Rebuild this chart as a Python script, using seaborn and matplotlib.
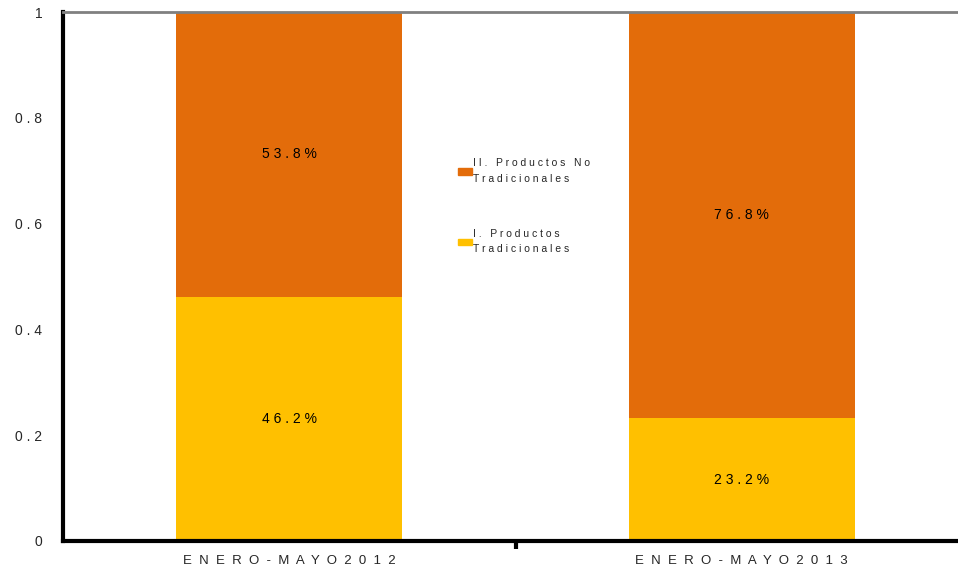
import matplotlib
matplotlib.use("Agg")
import matplotlib.pyplot as plt
import seaborn as sns
import pandas as pd
from matplotlib.patches import Patch

# Data
periodos = ["ENERO-MAYO2012", "ENERO-MAYO2013"]
tradicionales = [0.462, 0.232]
no_tradicionales = [0.538, 0.768]
serie_names = ["II. Productos No\nTradicionales", "I. Productos\nTradicionales"]
color_no_trad = "#E36C0A"
color_trad = "#FFC000"


def spaced(s, gap=" "):
    # the original renders the text with wide letter spacing
    return "\n".join(gap.join(line) for line in s.split("\n"))


df = pd.DataFrame({
    "Periodo": periodos,
    "Trad": tradicionales,
    "NoTrad": no_tradicionales,
})
df["Total"] = df["Trad"] + df["NoTrad"]

sns.set_style("white")
plt.rcParams["font.family"] = ["Liberation Sans", "DejaVu Sans"]

fig = plt.figure(figsize=(9.58, 5.76), dpi=100)
ax = fig.add_axes([0.0658, 0.0608, 0.9447, 0.918])

# stacked bars: total first (orange), then the bottom part (yellow)
sns.barplot(data=df, x="Periodo", y="Total", color=color_no_trad, width=0.5,
            saturation=1, linewidth=0, ax=ax)
sns.barplot(data=df, x="Periodo", y="Trad", color=color_trad, width=0.5,
            saturation=1, linewidth=0, ax=ax)

# percentage labels in the middle of each segment
for i, row in df.iterrows():
    ax.text(i, row["Trad"] / 2, spaced(f"{row['Trad'] * 100:.1f}%"),
            ha="center", va="center", fontsize=10, color="black")
    ax.text(i, row["Trad"] + row["NoTrad"] / 2, spaced(f"{row['NoTrad'] * 100:.1f}%"),
            ha="center", va="center", fontsize=10, color="black")

ax.set_xlim(-0.5, 1.5)
ax.set_ylim(0, 1)
ax.set_xlabel("")
ax.set_ylabel("")

# y ticks
yticks = [0, 0.2, 0.4, 0.6, 0.8, 1]
ax.set_yticks(yticks)
ax.set_yticklabels(["0"] + [spaced(f"{v:.1f}") for v in yticks[1:-1]] + ["1"], fontsize=10)

# x labels centered under bars, tick mark between categories
ax.set_xticks([0, 1])
ax.set_xticklabels([spaced(p, "  ") for p in periodos], fontsize=9.5)
ax.tick_params(axis="x", which="major", length=0, pad=10)
ax.set_xticks([0.5], minor=True)
ax.tick_params(axis="x", which="minor", length=6, width=3, direction="out",
               bottom=True, color="black")
ax.tick_params(axis="y", length=5, width=3, direction="out", pad=10, color="black")

for side in ["left", "bottom"]:
    ax.spines[side].set_linewidth(3)
    ax.spines[side].set_color("black")
ax.spines["right"].set_visible(False)
ax.spines["top"].set_visible(True)
ax.spines["top"].set_color("#808080")
ax.spines["top"].set_linewidth(2)
ax.grid(False)

handles = [Patch(color=color_no_trad), Patch(color=color_trad)]
leg = fig.legend(handles, [spaced(n) for n in serie_names], loc="upper left",
                 bbox_to_anchor=(0.473, 0.734), frameon=False, fontsize=7.5,
                 handlelength=1.3, handleheight=0.6, handletextpad=0.15,
                 labelspacing=4.3, borderpad=0)
for t in leg.get_texts():
    t.set_linespacing(1.7)

fig.savefig("out.png", dpi=100)
